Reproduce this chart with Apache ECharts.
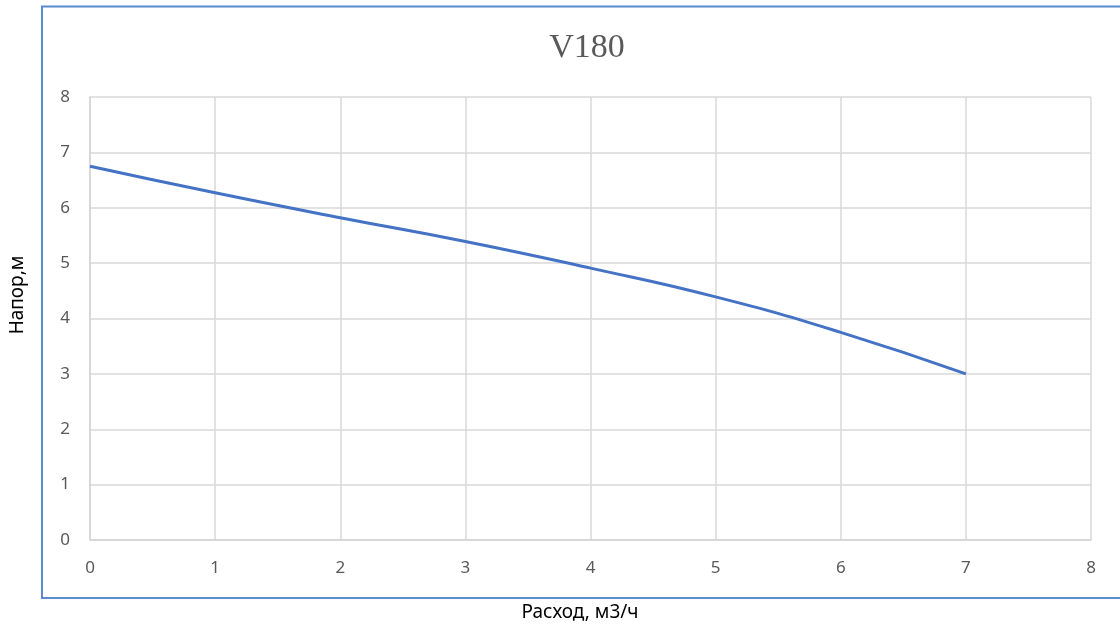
<!DOCTYPE html>
<html>
<head>
<meta charset="utf-8">
<script src="https://cdn.jsdelivr.net/npm/echarts@6/dist/echarts.min.js"></script>
<style>html,body{margin:0;padding:0;background:#fff}#c{width:1120px;height:628px}</style>
</head>
<body>
<div id="c"></div>
<script>
var titleText = 'V180';
var xName = 'Расход, м3/ч';
var yName = 'Напор,м';
var flow = [0, 1, 2, 3, 4, 5, 6, 7];
var head = [6.75, 6.27, 5.82, 5.39, 4.91, 4.39, 3.75, 3.0];

var chart = echarts.init(document.getElementById('c'));
var data = flow.map(function (x, i) { return [x, head[i]]; });
chart.setOption({
  animation: false,
  title: {
    text: titleText, left: 582, top: 26, textAlign: 'center',
    textStyle: { fontFamily: 'Liberation Serif', fontSize: 34, fontWeight: 'normal', color: '#595959' }
  },
  grid: { left: 90, right: 29, top: 97, bottom: 88 },
  xAxis: {
    type: 'value', min: 0, max: 8, interval: 1,
    axisLine: { show: true, lineStyle: { color: '#d4d4d4', width: 1.5 } },
    axisTick: { show: false },
    splitLine: { show: true, lineStyle: { color: '#d9d9d9', width: 1.5 } },
    axisLabel: { margin: 20, color: '#595959', fontSize: 17, fontFamily: 'Noto Sans' }
  },
  yAxis: {
    type: 'value', min: 0, max: 8, interval: 1,
    axisLine: { show: true, lineStyle: { color: '#d4d4d4', width: 1.5 } },
    axisTick: { show: false },
    splitLine: { show: true, lineStyle: { color: '#d9d9d9', width: 1.5 } },
    axisLabel: { margin: 20, color: '#595959', fontSize: 17, fontFamily: 'Noto Sans' }
  },
  graphic: [
    { type: 'rect', shape: { x: 42, y: 6.5, width: 1100, height: 591.5 },
      style: { fill: 'none', stroke: '#5b8bd0', lineWidth: 2 }, z: -1 },
    { type: 'text', x: 580, y: 613,
      style: { text: xName, fill: '#000', font: '19px "Noto Sans"', textAlign: 'center', textVerticalAlign: 'middle' } },
    { type: 'text', x: 18, y: 295, rotation: Math.PI / 2,
      style: { text: yName, fill: '#000', font: '19px "Noto Sans"', textAlign: 'center', textVerticalAlign: 'middle' } }
  ],
  series: [{
    type: 'line', data: data, smooth: true, showSymbol: false, symbol: 'none',
    lineStyle: { color: '#4472c4', width: 3 }
  }]
});
</script>
</body>
</html>
